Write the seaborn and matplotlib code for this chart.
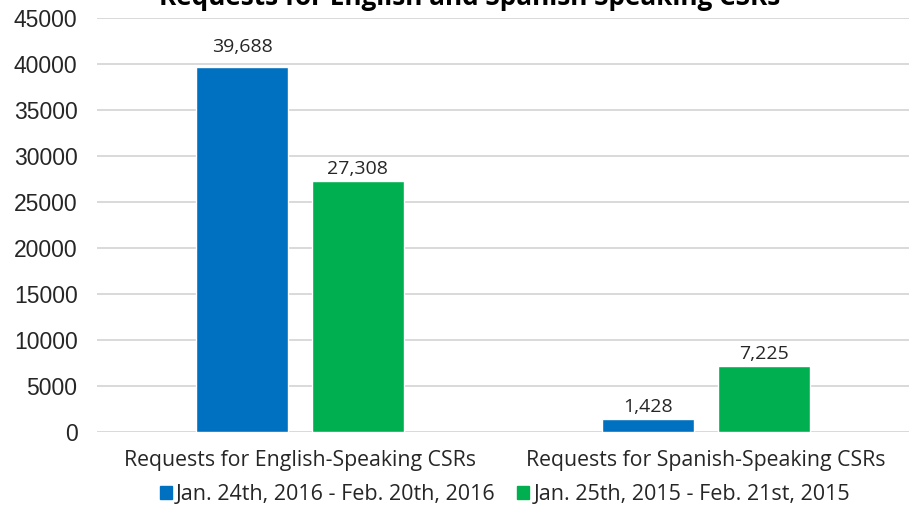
import matplotlib
matplotlib.use("Agg")
import matplotlib.pyplot as plt
import seaborn as sns
import pandas as pd

categories = ["Requests for English-Speaking CSRs", "Requests for Spanish-Speaking CSRs"]
periods = ["Jan. 24th, 2016 - Feb. 20th, 2016", "Jan. 25th, 2015 - Feb. 21st, 2015"]
counts_2016 = [39688, 1428]
counts_2015 = [27308, 7225]
y_ticks = [0, 5000, 10000, 15000, 20000, 25000, 30000, 35000, 40000, 45000]
title = "Requests for English and Spanish Speaking CSRs"

colors = ["#0070C0", "#00B050"]
text_color = "#262626"

df = pd.DataFrame({
    "category": categories * 2,
    "period": [periods[0]] * 2 + [periods[1]] * 2,
    "count": counts_2016 + counts_2015,
})

sns.set_theme(style="white")
plt.rcParams["font.family"] = ["Open Sans", "DejaVu Sans"]

fig = plt.figure(figsize=(9.11, 5.08), dpi=100)
ax = fig.add_axes([97 / 911, 1 - 432 / 508, 812 / 911, 414 / 508])

sns.barplot(data=df, x="category", y="count", hue="period", order=categories,
            hue_order=periods, palette=colors, width=0.57, gap=0.21,
            saturation=1, ax=ax, zorder=3)

labels = []
for cont in ax.containers:
    labels += ax.bar_label(cont, labels=[f"{v:,.0f}" for v in cont.datavalues],
                           padding=2, fontsize=14, color=text_color)
# lift the tallest bar's label clear of the 40000 gridline
labels[0].xyann = (0, 8)

ax.set_ylim(0, 45000)
ax.set_xlim(-0.5, 1.5)
ax.set_yticks(y_ticks)
ax.set_yticklabels([str(t) for t in y_ticks], family="Liberation Sans",
                   fontsize=16.5, color=text_color)
ax.tick_params(axis="y", length=0, pad=14)
ax.tick_params(axis="x", length=0, pad=13, labelsize=15.3, labelcolor=text_color)
ax.set_xlabel("")
ax.set_ylabel("")
ax.grid(axis="y", color="#d9d9d9", linewidth=1.4, zorder=0)
ax.set_axisbelow(True)
for s in ax.spines.values():
    s.set_visible(False)

ax.legend_.remove()
handles = [plt.Rectangle((0, 0), 1, 1, color=c) for c in colors]
fig.legend(handles, periods, loc="center", bbox_to_anchor=(505 / 911, 1 - 495 / 508),
           ncol=2, frameon=False, fontsize=15.5, handlelength=0.55, handleheight=0.55,
           handletextpad=0.2, columnspacing=1.0, labelcolor=text_color)

fig.text(470 / 911, 1 - 5 / 508, title, ha="center", va="baseline",
         fontsize=18.8, fontweight="bold", color="#000000")

fig.savefig("out.png", dpi=100)
